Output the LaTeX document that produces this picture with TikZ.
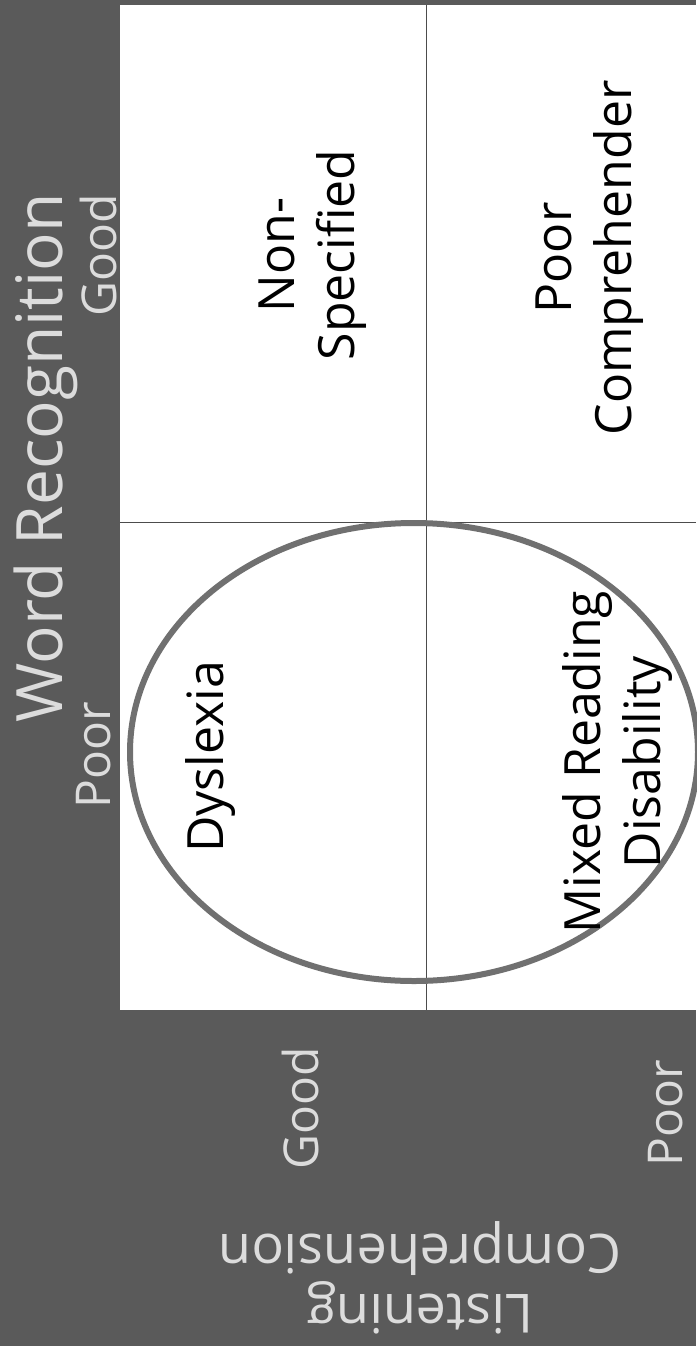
\documentclass[tikz,border=0pt]{standalone}
\usepackage{fontspec}
\setmainfont{Open Sans}
\usepackage{xcolor}
\usepackage{tikz}
\usetikzlibrary{positioning}

\definecolor{board}{HTML}{5A5A5A}
\definecolor{chalk}{HTML}{DCDCDC}
\definecolor{ringgray}{HTML}{707070}

\begin{document}
\begin{tikzpicture}[x=1pt, y=-1pt,
    axis/.style={rotate=90, anchor=base, text=chalk,
      font=\fontsize{64}{72}\selectfont},
    level/.style={rotate=90, anchor=base, text=chalk,
      font=\fontsize{48}{56}\selectfont},
    quad/.style={rotate=90, align=center, text=black,
      font=\fontsize{50}{60}\selectfont},
    gridline/.style={draw=black!70, line width=1pt},
    ring/.style={draw=ringgray, line width=6pt}
]
\useasboundingbox (0,0) rectangle (696,1346);
\fill[board] (0,0) rectangle (696,1346);

% white panel and quadrant lines
\coordinate (tl) at (120,5);
\coordinate (br) at (696,1010);
\coordinate (vtop) at (426,5);
\coordinate (vbot) at (426,1010);
\coordinate (hleft) at (120,522);
\coordinate (hright) at (696,522);
\fill[white] (tl) rectangle (br);
\draw[gridline] (vtop) -- (vbot);
\draw[gridline] (hleft) -- (hright);

\draw[ring] (414,752) ellipse [x radius=284pt, y radius=229pt];

% axis labels
\node[axis]  (wr)     at (62,458)   {Word Recognition};
\node[level] (wrgood) at (116,255)  {Good};
\node[level] (wrpoor) at (110,755)  {Poor};
\node[level] (lcgood) at (318,1108) {Good};
\node[level] (lcpoor) at (682,1113) {Poor};
\node[rotate=180, align=center, text=chalk,
  font=\fontsize{54}{60}\selectfont] (lc) at (420,1278)
  {Listening\\Comprehension};

% quadrants
\node[quad] (nonspec)  at (313,255) {Non-\\Specified};
\node[quad] (poorcomp) at (590,258) {Poor\\Comprehender};
\node[quad] (dys)      at (211,757) {Dyslexia};
\node[quad] (mixed)    at (618,762) {Mixed Reading\\Disability};
\end{tikzpicture}
\end{document}
